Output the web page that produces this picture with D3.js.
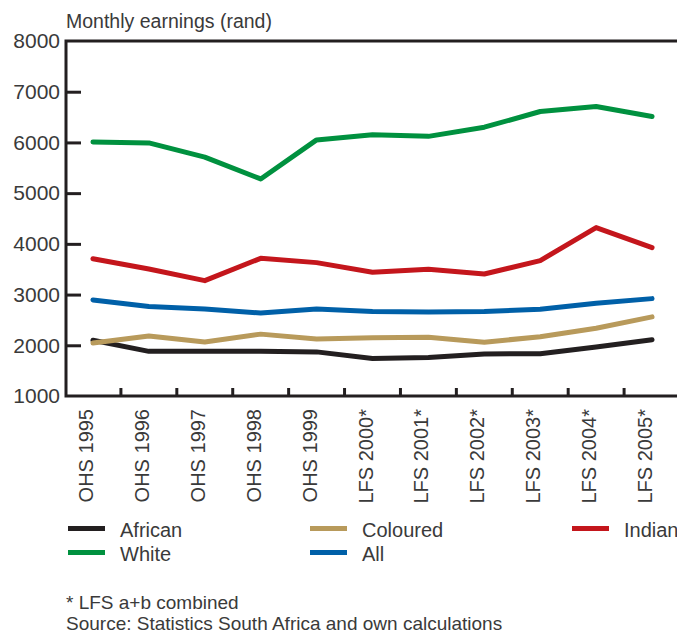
<!DOCTYPE html>
<html>
<head>
<meta charset="utf-8">
<script src="https://cdn.jsdelivr.net/npm/d3@7/dist/d3.min.js"></script>
<style>
  body { margin: 0; background: #fff; }
  svg text { font-family: "Liberation Sans", Arial, sans-serif; fill: #3a3a3a; }
</style>
</head>
<body>
<svg width="677" height="635"></svg>
<script>
// survey years
var years = ["OHS 1995", "OHS 1996", "OHS 1997", "OHS 1998", "OHS 1999",
             "LFS 2000*", "LFS 2001*", "LFS 2002*", "LFS 2003*", "LFS 2004*", "LFS 2005*"];

// monthly earnings (rand)
var african  = [2100, 1880, 1880, 1880, 1870, 1740, 1760, 1830, 1835, 1965, 2110];
var coloured = [2045, 2185, 2065, 2220, 2125, 2150, 2160, 2060, 2170, 2335, 2560];
var indian   = [3705, 3505, 3275, 3715, 3630, 3440, 3500, 3405, 3670, 4320, 3925];
var white    = [6010, 5990, 5710, 5280, 6050, 6150, 6120, 6300, 6610, 6710, 6510];
var all      = [2895, 2765, 2715, 2635, 2715, 2665, 2655, 2665, 2710, 2830, 2920];

var yTicks = [1000, 2000, 3000, 4000, 5000, 6000, 7000, 8000];

var series = [
  {name: "African",  values: african,  color: "#231f20"},
  {name: "Coloured", values: coloured, color: "#b89a5b"},
  {name: "Indian",   values: indian,   color: "#c4161c"},
  {name: "White",    values: white,    color: "#00913f"},
  {name: "All",      values: all,      color: "#0060a8"}
];

var svg = d3.select("svg");
var plotLeft = 66, plotRight = 677, plotTop = 41, plotBottom = 396;

var x = d3.scaleBand()
    .domain(years)
    .range([65, 680]);

var y = d3.scaleLinear()
    .domain([1000, 8000])
    .range([plotBottom, plotTop]);

// title
svg.append("text")
    .attr("x", 66)
    .attr("y", 28)
    .style("font-size", "19.5px")
    .text("Monthly earnings (rand)");

// y axis, ticks pointing inwards
var yAxis = svg.append("g")
    .attr("transform", "translate(" + plotLeft + ",0)")
    .call(d3.axisLeft(y).tickValues(yTicks).tickFormat(d3.format("d"))
        .tickSizeInner(-15).tickSizeOuter(0).tickPadding(6));
yAxis.select(".domain").remove();
yAxis.selectAll(".tick line")
    .filter(d => d == 1000 || d == 8000).remove();
yAxis.selectAll(".tick line")
    .attr("stroke", "#231f20").attr("stroke-width", 3);
yAxis.selectAll(".tick text")
    .attr("x", -6)
    .style("font-size", "21px")
    .style("fill", "#3a3a3a");

// x axis labels, rotated
var xAxis = svg.append("g")
    .attr("transform", "translate(0," + plotBottom + ")")
    .call(d3.axisBottom(x).tickSize(0).tickPadding(0));
xAxis.select(".domain").remove();
xAxis.selectAll(".tick text")
    .attr("transform", "rotate(-90)")
    .attr("text-anchor", "end")
    .attr("x", -13)
    .attr("y", 0)
    .attr("dy", "0")
    .style("font-size", "20px")
    .style("fill", "#3a3a3a");

// x ticks between categories
svg.append("g")
    .selectAll("line")
    .data(years.slice(1))
    .enter().append("line")
    .attr("x1", d => x(d))
    .attr("x2", d => x(d))
    .attr("y1", plotBottom)
    .attr("y2", plotBottom - 8)
    .attr("stroke", "#231f20")
    .attr("stroke-width", 3);

// frame: left, top, bottom
svg.append("path")
    .attr("d", "M" + plotRight + "," + plotTop + "H" + plotLeft + "V" + plotBottom + "H" + plotRight)
    .attr("fill", "none")
    .attr("stroke", "#231f20")
    .attr("stroke-width", 3);

var line = d3.line()
    .x((d, i) => x(years[i]) + x.bandwidth() / 2)
    .y(d => y(d));

svg.append("g")
    .selectAll("path")
    .data(series)
    .enter().append("path")
    .attr("d", d => line(d.values))
    .attr("fill", "none")
    .attr("stroke", d => d.color)
    .attr("stroke-width", 5)
    .attr("stroke-linejoin", "round")
    .attr("stroke-linecap", "round");

// legend
var legendPos = {
  African:  [68, 528.5], Coloured: [310, 528.5], Indian: [572, 528.5],
  White:    [68, 552.5], All:      [310, 552.5]
};
var legend = svg.append("g")
    .selectAll("g")
    .data(series)
    .enter().append("g")
    .attr("transform", d => "translate(" + legendPos[d.name][0] + "," + legendPos[d.name][1] + ")");
legend.append("line")
    .attr("x1", 0).attr("x2", 37)
    .attr("stroke", d => d.color)
    .attr("stroke-width", 5);
legend.append("text")
    .attr("x", 52)
    .attr("y", 8)
    .style("font-size", "20px")
    .text(d => d.name);

// notes
svg.append("text")
    .attr("x", 66).attr("y", 609)
    .style("font-size", "19px")
    .text("* LFS a+b combined");
svg.append("text")
    .attr("x", 66).attr("y", 630)
    .style("font-size", "19px")
    .text("Source: Statistics South Africa and own calculations");
</script>
</body>
</html>
